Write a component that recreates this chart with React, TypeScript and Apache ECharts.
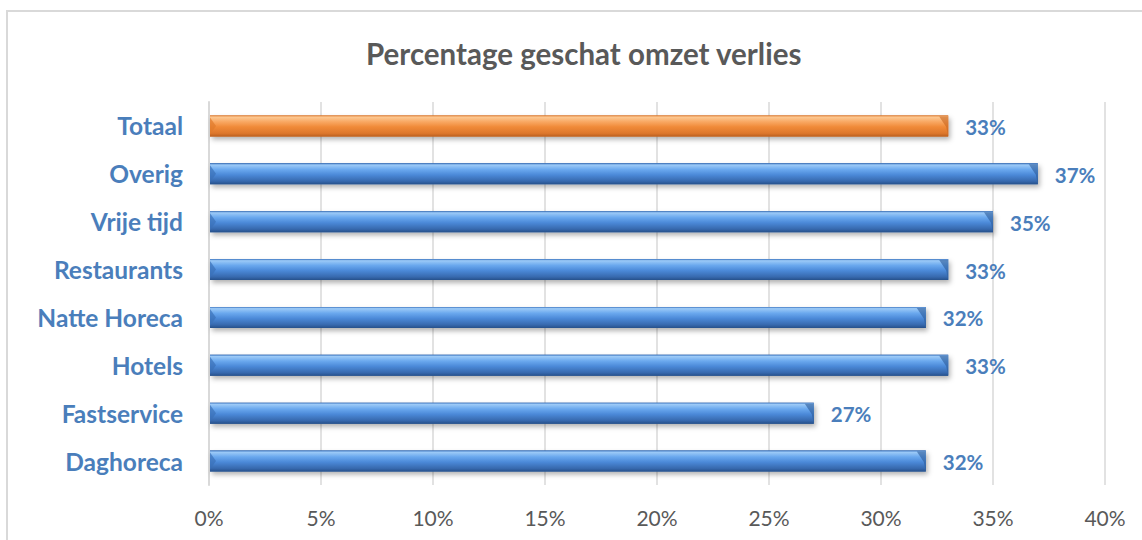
import React, { useEffect, useRef } from "react";
import * as echarts from "echarts";

const categories = ["Daghoreca", "Fastservice", "Hotels", "Natte Horeca", "Restaurants", "Vrije tijd", "Overig", "Totaal"];
const values = [32, 27, 33, 32, 33, 35, 37, 33];
const highlight = ["Totaal"];
const xTicks = { min: 0, max: 40, interval: 5 };
const title = "Percentage geschat omzet verlies";

const BLUE = "#4a7ebb";
const GRAY = "#595959";

export default function App() {
  const ref = useRef<HTMLDivElement>(null);
  useEffect(() => {
    const chart = echarts.init(ref.current!, null, { renderer: "svg" });
    const blueGrad = new echarts.graphic.LinearGradient(0, 0, 0, 1, [
      { offset: 0, color: "#3b74c0" },
      { offset: 0.08, color: "#9ccaf7" },
      { offset: 0.3, color: "#6aa8ee" },
      { offset: 0.55, color: "#4b89d8" },
      { offset: 0.85, color: "#3769ae" },
      { offset: 1, color: "#26508a" },
    ]);
    const orangeGrad = new echarts.graphic.LinearGradient(0, 0, 0, 1, [
      { offset: 0, color: "#e27d2e" },
      { offset: 0.08, color: "#fcc892" },
      { offset: 0.3, color: "#f9a863" },
      { offset: 0.55, color: "#f08a38" },
      { offset: 0.85, color: "#dd772c" },
      { offset: 1, color: "#bb601f" },
    ]);
    const data = values.map((v, i) => [v, i]);
    chart.setOption({
      animation: false,
      title: {
        text: title,
        left: 361,
        top: 33,
        textStyle: { fontFamily: "Lato", fontWeight: "bold", fontSize: 29.5, color: GRAY },
      },
      graphic: [
        {
          type: "rect",
          shape: { x: 7, y: 11, width: 1160, height: 560 },
          style: { fill: "none", stroke: "#d9d9d9", lineWidth: 2 },
          silent: true,
          z: -1,
        },
      ],
      grid: { left: 209, right: 37, top: 102, bottom: 55, containLabel: false },
      xAxis: {
        type: "value",
        min: xTicks.min,
        max: xTicks.max,
        interval: xTicks.interval,
        axisLine: { show: false },
        axisTick: { show: false },
        splitLine: { show: true, lineStyle: { color: "#d9d9d9", width: 1.5 } },
        axisLabel: {
          formatter: (v: number) => v + "%",
          color: GRAY,
          fontFamily: "Lato",
          fontSize: 21,
          margin: 22,
        },
      },
      yAxis: {
        type: "category",
        data: categories,
        axisLine: { show: true, lineStyle: { color: "#d9d9d9", width: 2 } },
        axisTick: { show: false },
        axisLabel: {
          color: BLUE,
          fontFamily: "Lato",
          fontWeight: "bold",
          fontSize: 24.5,
          margin: 26,
        },
      },
      series: [
        {
          type: "custom",
          encode: { x: 0, y: 1 },
          data,
          renderItem: (params: any, api: any) => {
            const v = api.value(0);
            const ci = api.value(1);
            const start = api.coord([0, ci]);
            const end = api.coord([v, ci]);
            const band = api.size([0, 1])[1];
            const h = band * 0.44;
            const x0 = start[0] + 1;
            const x1 = end[0];
            const y = end[1] - h / 2;
            const isHi = highlight.includes(categories[ci]);
            const grad = isHi ? orangeGrad : blueGrad;
            const dark = isHi ? "#c8661f" : "#2d5c99";
            const mid = isHi ? "#e07a2c" : "#3a70b8";
            return {
              type: "group",
              children: [
                {
                  type: "rect",
                  shape: { x: x0, y, width: x1 - x0, height: h },
                  style: {
                    fill: dark,
                    shadowBlur: 5,
                    shadowOffsetX: 2,
                    shadowOffsetY: 3,
                    shadowColor: "rgba(0,0,0,0.3)",
                  },
                },
                {
                  type: "rect",
                  shape: { x: x0, y, width: x1 - x0, height: h },
                  style: { fill: grad },
                },
                {
                  type: "polygon",
                  shape: {
                    points: [
                      [x1 - 9, y + 1],
                      [x1, y + 1],
                      [x1, y + h],
                      [x1 - 2, y + h * 0.55],
                    ],
                  },
                  style: { fill: dark, opacity: 0.6 },
                },
                {
                  type: "polygon",
                  shape: {
                    points: [
                      [x0, y + 2],
                      [x0 + 6, y + h / 2],
                      [x0, y + h - 2],
                    ],
                  },
                  style: { fill: mid, opacity: 0.7 },
                },
                {
                  type: "text",
                  x: x1 + 17,
                  y: end[1] + 1,
                  style: {
                    text: v + "%",
                    fill: BLUE,
                    fontFamily: "Lato",
                    fontWeight: "bold",
                    fontSize: 20.5,
                    verticalAlign: "middle",
                    align: "left",
                  },
                },
              ],
            };
          },
        },
      ],
    });
    return () => chart.dispose();
  }, []);
  return (
    <div
      ref={ref}
      style={{ position: "absolute", left: 0, top: 0, width: 1142, height: 540, background: "#fff" }}
    />
  );
}
